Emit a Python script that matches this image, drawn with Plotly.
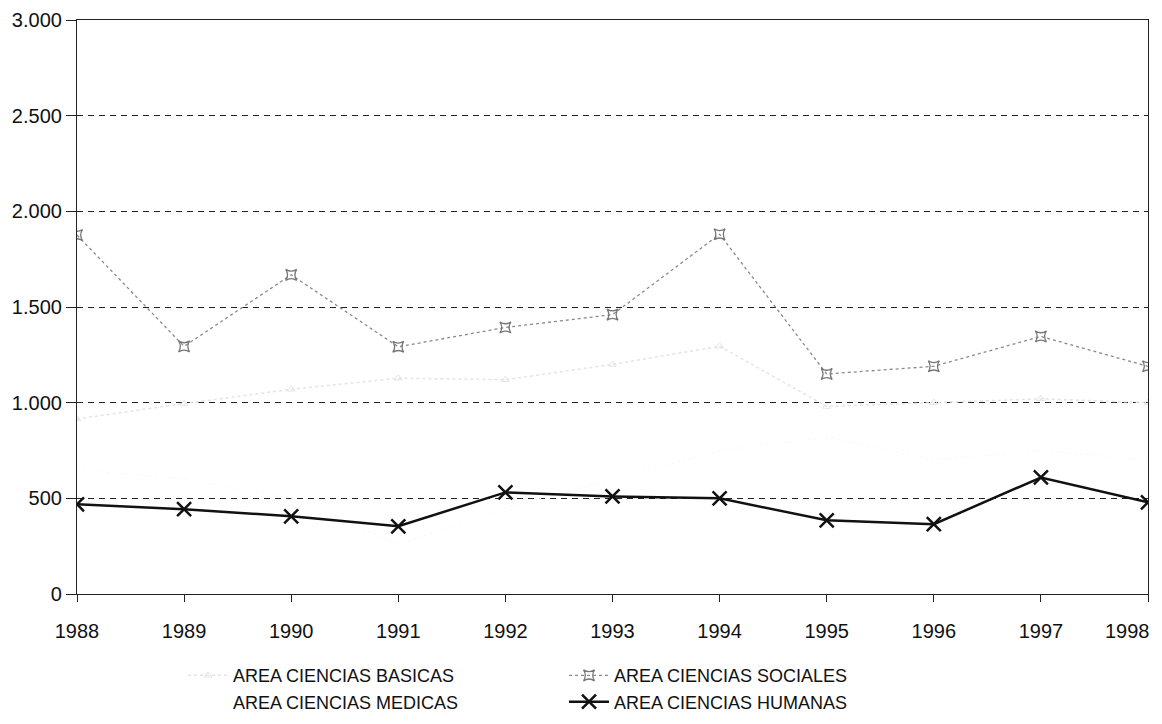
import plotly.graph_objects as go

years = [1988, 1989, 1990, 1991, 1992, 1993, 1994, 1995, 1996, 1997, 1998]
year_labels = ["1988", "1989", "1990", "1991", "1992", "1993", "1994",
               "1995", "1996", "1997", "1998"]
basicas = [915, 995, 1070, 1128, 1120, 1200, 1295, 980, 1000, 1020, 1000]
sociales = [1876, 1294, 1668, 1292, 1393, 1460, 1880, 1150, 1190, 1346, 1190]
medicas = [650, 600, 500, 260, 450, 600, 750, 820, 700, 750, 700]
humanas = [469, 443, 406, 354, 531, 510, 500, 385, 365, 609, 479]

names = ["AREA CIENCIAS BASICAS", "AREA CIENCIAS SOCIALES",
         "AREA CIENCIAS MEDICAS", "AREA CIENCIAS HUMANAS"]

fig = go.Figure()
fig.add_trace(go.Scatter(
    x=years, y=basicas, name=names[0], mode="lines+markers",
    line=dict(color="#e4e4e4", width=1.5, dash="dot"),
    marker=dict(symbol="triangle-up-open", size=7, color="#e4e4e4")))
fig.add_trace(go.Scatter(
    x=years, y=sociales, name=names[1], mode="lines+markers",
    line=dict(color="#8a8a8a", width=1.3, dash="dot"),
    marker=dict(symbol="star-square-open", size=10, color="#777777",
                line=dict(width=1.3))))
fig.add_trace(go.Scatter(
    x=years, y=medicas, name=names[2], mode="lines",
    line=dict(color="#fafafa", width=1, dash="dot")))
fig.add_trace(go.Scatter(
    x=years, y=humanas, name=names[3], mode="lines+markers",
    line=dict(color="#111111", width=2.5),
    marker=dict(symbol="x-thin-open", size=14, color="#111111",
                line=dict(width=2.5, color="#111111"))))

# last year label drawn right-aligned so it stays inside the page
shown_text = year_labels[:-1] + [""]
fig.add_annotation(
    x=years[-1], xref="x", y=0, yref="paper", text=year_labels[-1],
    xanchor="right", yanchor="top", xshift=4, yshift=-24, showarrow=False,
    font=dict(size=20, color="#111111"))

fig.update_layout(
    width=1146, height=708,
    margin=dict(l=69, r=6, t=12, b=122, autoexpand=False),
    paper_bgcolor="white", plot_bgcolor="white",
    separators=",.",
    font=dict(family="Liberation Sans, Arial, sans-serif", size=20, color="#111111"),
    showlegend=True,
    legend=dict(orientation="h", x=0.099, xanchor="left", y=-0.11, yanchor="top",
                entrywidth=326, entrywidthmode="pixels", traceorder="normal",
                font=dict(size=18), bgcolor="rgba(0,0,0,0)", itemwidth=40),
)
fig.update_xaxes(
    range=[1988, 1998], tickvals=years, ticktext=shown_text,
    showgrid=False, automargin=False, ticklabeloverflow="allow",
    showline=True, linecolor="#222222", linewidth=1.2, mirror=True,
    ticks="outside", ticklen=7, tickcolor="#222222", zeroline=False,
    ticklabelstandoff=12, tickfont=dict(size=20))
fig.update_yaxes(
    range=[0, 3000], dtick=500, tickformat=",d", showgrid=True, automargin=False,
    ticklabeloverflow="allow",
    gridcolor="#222222", gridwidth=1, griddash="6px,5px",
    showline=True, linecolor="#222222", linewidth=1.2, mirror=True,
    ticks="outside", ticklen=10, tickcolor="#222222", zeroline=False,
    tickfont=dict(size=20))

fig.write_html("out.html")
